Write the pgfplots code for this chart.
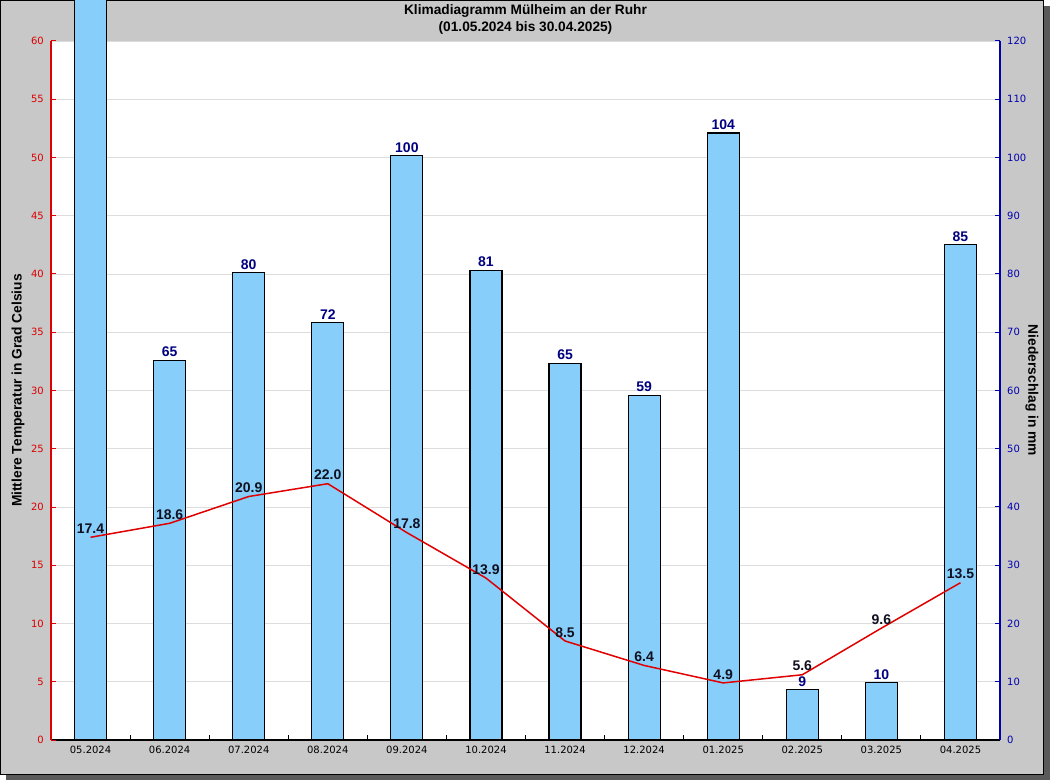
\documentclass[border=0pt]{standalone}
\usepackage{fontspec}
\setmainfont{Liberation Sans}
\newfontfamily\dejavu{DejaVu Sans}
\usepackage{pgfplots}
\pgfplotsset{compat=1.18}
\definecolor{bg}{RGB}{200,200,200}
\definecolor{shadowc}{RGB}{90,90,90}
\definecolor{barfill}{RGB}{135,206,250}
\definecolor{tred}{RGB}{220,0,0}
\definecolor{pblue}{RGB}{0,0,175}
\definecolor{navyc}{RGB}{0,0,128}
\definecolor{gridc}{RGB}{221,221,221}
\definecolor{linered}{RGB}{225,0,0}
\definecolor{tlab}{RGB}{16,16,32}
\begin{document}
\begin{tikzpicture}[x=1pt,y=1pt]
\useasboundingbox (0,0) rectangle (1050,780);
\clip (0,0) rectangle (1050,780);
\fill[shadowc] (6,0) rectangle (1050,774);
\filldraw[fill=bg,draw=black,line width=1pt] (0.5,5.5) rectangle (1043.5,779.5);
\fill[white] (51,40) rectangle (1000,739);
% precipitation bars (right axis)
\begin{axis}[
  at={(51pt,40pt)}, anchor=south west, scale only axis,
  width=949pt, height=699pt,
  xmin=-0.5, xmax=11.5, ymin=0, ymax=120,
  clip=false,
  axis x line*=bottom, axis y line*=right,
  x axis line style={black, line width=1.2pt},
  y axis line style={pblue, line width=1.2pt},
  tick align=inside, major tick length=5pt, minor tick length=5pt,
  xtick={0,...,11},
  xticklabels={05.2024,06.2024,07.2024,08.2024,09.2024,10.2024,11.2024,12.2024,01.2025,02.2025,03.2025,04.2025},
  major x tick style={draw=none},
  minor xtick={0.5,1.5,...,10.5},
  minor x tick style={black, line width=1pt},
  xticklabel style={font=\dejavu\fontsize{10}{12}\selectfont, inner sep=0pt, yshift=-6pt},
  ytick={0,10,...,120},
  ytick style={pblue, line width=1pt},
  yticklabel style={font=\dejavu\fontsize{10}{12}\selectfont, text=pblue, inner sep=0pt, xshift=7pt},
  /pgf/number format/assume math mode=true,
  ymajorgrids, grid style={gridc, line width=0.8pt},
  ylabel={Niederschlag in mm},
  every axis y label/.style={at={(axis description cs:1.0337,0.5)}, rotate=-90, anchor=center, font=\bfseries\fontsize{13.8}{16}\selectfont},
]
% first month: bar runs beyond the top of the chart, its label is not shown
\addplot[ybar, bar width=32pt, fill=barfill, draw=black, line width=1.1pt]
  coordinates {(0,140)};
\addplot[ybar, bar width=32pt, fill=barfill, draw=black, line width=1.1pt,
  nodes near coords={\pgfmathprintnumber[fixed,precision=0]{\pgfplotspointmeta}},
  every node near coord/.append style={font=\bfseries\fontsize{14}{16}\selectfont, text=navyc, anchor=south, inner sep=1pt, yshift=2pt}]
  coordinates {(1,65.2) (2,80.2) (3,71.6) (4,100.3) (5,80.6) (6,64.7) (7,59.2) (8,104.2) (9,8.6) (10,9.8) (11,85.0)};
\end{axis}
% temperature line (left axis)
\begin{axis}[
  at={(51pt,40pt)}, anchor=south west, scale only axis,
  width=949pt, height=699pt,
  xmin=-0.5, xmax=11.5, ymin=0, ymax=60,
  axis x line=none, axis y line*=left,
  y axis line style={tred, line width=1.2pt},
  tick align=inside, major tick length=5pt,
  ytick={0,5,...,60},
  ytick style={tred, line width=1pt},
  yticklabel style={font=\dejavu\fontsize{10}{12}\selectfont, text=tred, inner sep=0pt, xshift=-7pt},
  /pgf/number format/assume math mode=true,
  ylabel={Mittlere Temperatur in Grad Celsius},
  every axis y label/.style={at={(axis description cs:-0.0348,0.5)}, rotate=90, anchor=center, font=\bfseries\fontsize{13.8}{16}\selectfont},
  title={Klimadiagramm Mülheim an der Ruhr\\(01.05.2024 bis 30.04.2025)},
  title style={at={(axis description cs:0.5,1)}, anchor=south, align=center, font=\bfseries\fontsize{13.7}{17}\selectfont, inner sep=0pt, yshift=0pt},
]
\addplot[linered, line width=1.5pt, mark=none,
  nodes near coords={\pgfmathprintnumber[fixed,fixed zerofill,precision=1]{\pgfplotspointmeta}},
  every node near coord/.append style={font=\bfseries\fontsize{14}{16}\selectfont, text=tlab, anchor=south, inner sep=1pt, yshift=2pt}]
  coordinates {(0,17.4) (1,18.6) (2,20.9) (3,22.0) (4,17.8) (5,13.9) (6,8.5) (7,6.4) (8,4.9) (9,5.6) (10,9.6) (11,13.5)};
\end{axis}
\end{tikzpicture}
\end{document}
